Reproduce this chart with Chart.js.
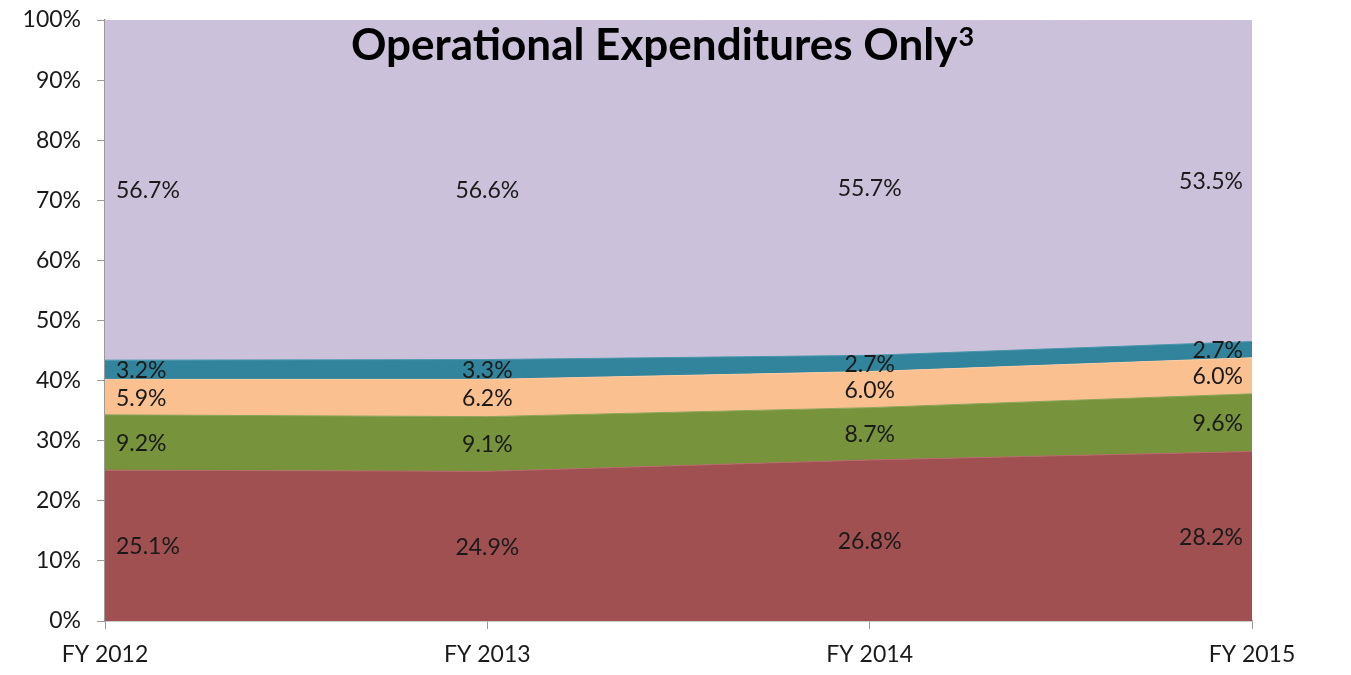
<!DOCTYPE html>
<html>
<head>
<meta charset="utf-8">
<script src="https://cdn.jsdelivr.net/npm/chart.js@4/dist/chart.umd.min.js"></script>
<style>
  html, body { margin: 0; padding: 0; background: #fff; }
  #wrap { width: 1351px; height: 675px; }
</style>
</head>
<body>
<div id="wrap"><canvas id="chartOpex"></canvas></div>
<script>
// data
const years = ["FY 2012", "FY 2013", "FY 2014", "FY 2015"];
const seriesRed = [25.1, 24.9, 26.8, 28.2];
const seriesGreen = [9.2, 9.1, 8.7, 9.6];
const seriesOrange = [5.9, 6.2, 6.0, 6.0];
const seriesTeal = [3.2, 3.3, 2.7, 2.7];
const seriesLavender = [56.7, 56.6, 55.7, 53.5];
const yTicks = [0, 10, 20, 30, 40, 50, 60, 70, 80, 90, 100];

const seriesList = [seriesRed, seriesGreen, seriesOrange, seriesTeal, seriesLavender];
const fillColors = ["#A05050", "#77933C", "#FAC090", "#31849B", "#CCC1DA"];
const edgeColors = ["#B56A6A", "#8DA457", "#FBCBA3", "#4A96AB", "#CCC1DA"];

const fontFam = "Lato, 'Open Sans', sans-serif";
const textColor = "#1a1a1a";
const axisGray = "#9a9a9a";

// draws the percentage labels in the middle of each band
const bandLabels = {
    id: "bandLabels",
    afterDatasetsDraw(chart) {
        const ctx = chart.ctx;
        const yScale = chart.scales.y;
        const xScale = chart.scales.x;
        ctx.save();
        ctx.font = "23px " + fontFam;
        ctx.fillStyle = textColor;
        ctx.textBaseline = "middle";
        years.forEach((yr, j) => {
            let cum = 0;
            seriesList.forEach(values => {
                const v = values[j];
                const yMid = (yScale.getPixelForValue(cum) + yScale.getPixelForValue(cum + v)) / 2;
                cum += v;
                let x = xScale.getPixelForValue(j);
                if (j === 0) {
                    ctx.textAlign = "left";
                    x += 11;
                } else if (j === years.length - 1) {
                    ctx.textAlign = "right";
                    x -= 9;
                } else {
                    ctx.textAlign = "center";
                }
                ctx.fillText(v.toFixed(1) + "%", x, yMid + 1);
            });
        });
        ctx.restore();
    }
};

// title sits inside the plot area, like in the original slide
const insideTitle = {
    id: "insideTitle",
    afterDraw(chart) {
        const ctx = chart.ctx;
        const area = chart.chartArea;
        const main = "Operational Expenditures Only";
        ctx.save();
        ctx.fillStyle = "#000";
        ctx.textBaseline = "alphabetic";
        ctx.font = "bold 44px " + fontFam;
        const w = ctx.measureText(main).width;
        ctx.font = "bold 27px " + fontFam;
        const ws = ctx.measureText("3").width;
        const x0 = 662 - (w + ws) / 2;
        ctx.font = "bold 44px " + fontFam;
        ctx.textAlign = "left";
        ctx.fillText(main, x0, area.top + 40);
        ctx.font = "bold 27px " + fontFam;
        ctx.fillText("3", x0 + w + 1, area.top + 26);
        ctx.restore();
    }
};

new Chart(document.getElementById("chartOpex"), {
    type: "line",
    data: {
        labels: years,
        datasets: seriesList.map((values, i) => ({
            label: "s" + i,
            data: values,
            fill: i === 0 ? "origin" : "-1",
            backgroundColor: fillColors[i],
            borderColor: edgeColors[i],
            borderWidth: 1,
            pointRadius: 0,
            tension: 0
        }))
    },
    options: {
        responsive: true,
        maintainAspectRatio: false,
        animation: false,
        layout: { padding: { top: 20, right: 99, left: 0, bottom: 0 } },
        plugins: {
            legend: { display: false },
            tooltip: { enabled: false },
            title: { display: false }
        },
        scales: {
            x: {
                offset: false,
                grid: { display: true, drawOnChartArea: false, color: axisGray, tickLength: 8 },
                border: { display: true, color: axisGray, width: 1.5 },
                ticks: {
                    color: textColor,
                    font: { size: 23, family: fontFam },
                    padding: 12,
                    maxRotation: 0
                },
                afterFit(scale) { scale.height = 54; }
            },
            y: {
                stacked: true,
                min: 0,
                max: 100,
                afterBuildTicks(scale) { scale.ticks = yTicks.map(v => ({ value: v })); },
                grid: { display: true, drawOnChartArea: false, color: axisGray, tickLength: 8 },
                border: { display: true, color: axisGray, width: 1.5 },
                ticks: {
                    color: textColor,
                    font: { size: 23, family: fontFam },
                    padding: 16,
                    callback: v => v + "%"
                },
                afterFit(scale) {
                    scale.width = 105;
                    scale.paddingTop = 0;
                    scale.paddingBottom = 0;
                }
            }
        }
    },
    plugins: [bandLabels, insideTitle]
});
</script>
</body>
</html>
